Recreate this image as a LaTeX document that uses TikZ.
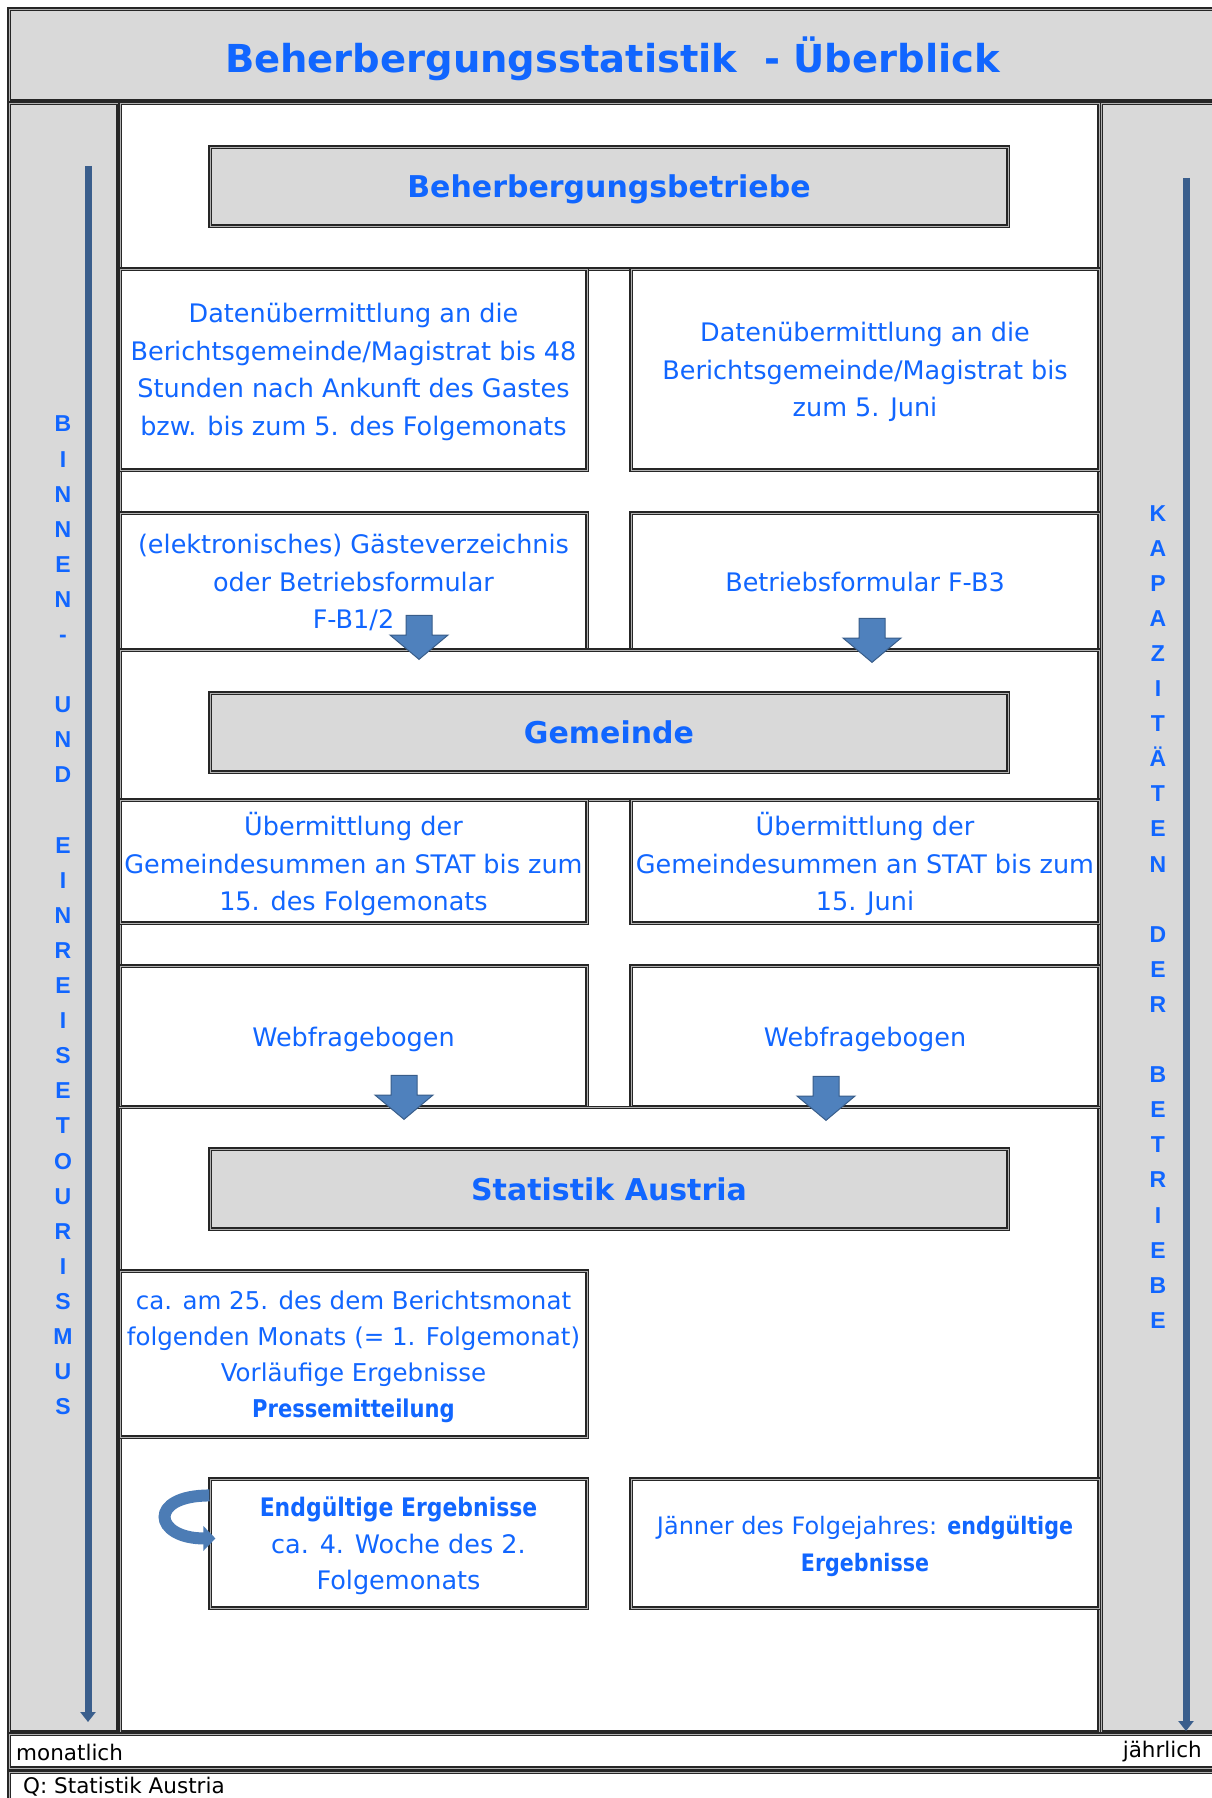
\documentclass[tikz,border=0pt]{standalone}
\usepackage{fontspec}
\setmainfont{DejaVu Sans}
\newfontfamily\arialfont{Liberation Sans}
\newfontfamily\schmal{DejaVu Sans}[FakeStretch=0.86]
\newcommand{\fettschmal}[1]{{\schmal\bfseries #1}}
\usepackage{tikz}
\usetikzlibrary{shapes.arrows, arrows.meta}
\definecolor{schrift}{RGB}{17,102,255}
\definecolor{zellgrau}{RGB}{217,217,217}
\definecolor{pfeilblau}{RGB}{79,129,189}
\definecolor{pfeilrand}{RGB}{56,93,138}
\definecolor{leiste}{RGB}{58,94,140}
\tikzstyle{rahmen} = [
	draw=black!85,
	double=black!30,
	double distance=0.9pt,
	line width=1.1pt,
	inner sep=0pt
]
\tikzstyle{feld} = [
	rahmen,
	fill=white,
	text=schrift,
	align=center,
	text depth=0pt,
	font=\fontsize{25.5}{37.5}\selectfont
]
\tikzstyle{kopf} = [
	rahmen,
	fill=zellgrau,
	text=schrift,
	text depth=0pt,
	font=\fontsize{30}{36}\selectfont\bfseries
]
\tikzstyle{blockpfeil} = [
	single arrow,
	shape border rotate=270,
	draw=pfeilrand,
	fill=pfeilblau,
	line width=1pt,
	inner xsep=12.5pt,
	inner ysep=0pt,
	minimum height=44pt,
	single arrow head extend=16pt,
	single arrow tip angle=100
]
\tikzstyle{zeitpfeil} = [draw=leiste, line width=7pt, -{Triangle[width=15pt,length=10pt]}]
\tikzstyle{kringel} = [draw=pfeilblau!85!pfeilrand, line width=12pt, -{Triangle[width=24pt,length=12pt]}]
\tikzstyle{spalte} = [text=schrift, inner sep=0pt, align=center, font=\arialfont\bfseries\fontsize{23}{35.1}\selectfont]
\tikzstyle{klein} = [inner sep=0pt, font=\fontsize{21.5}{26}\selectfont]

\begin{document}
\begin{tikzpicture}[x=1pt, y=-1pt]
    \useasboundingbox (0, 0) rectangle (1211, 1798);
    \node [kopf, minimum width=1207pt, minimum height=92pt, font=\fontsize{38.5}{44}\selectfont\bfseries] at (612.5, 55) (titel) {Beherbergungsstatistik\ \ - Überblick};
    \node [rahmen, fill=zellgrau, minimum width=109pt, minimum height=1629pt] at (63.5, 917.5) (links) {};
    \node [rahmen, fill=zellgrau, minimum width=115pt, minimum height=1629pt] at (1158.5, 917.5) (rechts) {};
    \node [rahmen, fill=white, minimum width=979pt, minimum height=1629pt] at (609.5, 917.5) (mitte) {};
    \node [rahmen, fill=white, minimum width=1207pt, minimum height=34pt] at (612.5, 1751) (takt) {};
    \node [rahmen, fill=white, minimum width=1207pt, minimum height=58pt] at (612.5, 1801) (quelle) {};
    \node [klein, anchor=west] at (16, 1752) (monatlich) {monatlich};
    \node [klein, anchor=east] at (1202, 1752) (jaehrlich) {jährlich};
    \node [klein, anchor=west] at (23, 1787) (q) {Q: Statistik Austria};
    \coordinate (mon start) at (88, 166);
    \coordinate (mon ende) at (88, 1722);
    \coordinate (jahr start) at (1186, 178);
    \coordinate (jahr ende) at (1186, 1731);
    \draw [zeitpfeil] (mon start) -- (mon ende);
    \draw [zeitpfeil] (jahr start) -- (jahr ende);
    \node [spalte] at (63, 915.5) (binnen) {B\\I\\N\\N\\E\\N\\-\\\mbox{}\\U\\N\\D\\\mbox{}\\E\\I\\N\\R\\E\\I\\S\\E\\T\\O\\U\\R\\I\\S\\M\\U\\S};
    \node [spalte] at (1158, 916.8) (kapazitaet) {K\\A\\P\\A\\Z\\I\\T\\Ä\\T\\E\\N\\\mbox{}\\D\\E\\R\\\mbox{}\\B\\E\\T\\R\\I\\E\\B\\E};
    \node [rahmen, minimum width=979pt, minimum height=166pt] at (609.5, 186) (zelle betrieb) {};
    \node [kopf, minimum width=798pt, minimum height=79pt] at (609, 186.5) (betriebe) {Beherbergungsbetriebe};
    \node [feld, minimum width=467pt, minimum height=201pt] at (353.5, 369.5) (meld monat) {Datenübermittlung an die\\Berichtsgemeinde/Magistrat bis 48\\Stunden nach Ankunft des Gastes\\bzw. bis zum 5. des Folgemonats};
    \node [feld, minimum width=468pt, minimum height=201pt] at (865, 369.5) (meld jahr) {Datenübermittlung an die\\Berichtsgemeinde/Magistrat bis\\zum 5. Juni};
    \node [feld, minimum width=467pt, minimum height=137pt] at (353.5, 581.5) (formular monat) {(elektronisches) Gästeverzeichnis\\oder Betriebsformular\\F-B1/2};
    \node [feld, minimum width=468pt, minimum height=137pt] at (865, 581.5) (formular jahr) {Betriebsformular F-B3};
    \node [rahmen, fill=white, minimum width=979pt, minimum height=150pt] at (609.5, 725) (zelle gemeinde) {};
    \node [kopf, minimum width=798pt, minimum height=79pt] at (609, 732.5) (gemeinde) {Gemeinde};
    \node [blockpfeil, anchor=tip] at (419, 660) (pfeil formular monat) {};
    \node [blockpfeil, anchor=tip] at (872, 663) (pfeil formular jahr) {};
    \node [feld, minimum width=467pt, minimum height=123pt] at (353.5, 861.5) (summe monat) {Übermittlung der\\Gemeindesummen an STAT bis zum\\15. des Folgemonats};
    \node [feld, minimum width=468pt, minimum height=123pt] at (865, 861.5) (summe jahr) {Übermittlung der\\Gemeindesummen an STAT bis zum\\15. Juni};
    \node [feld, minimum width=467pt, minimum height=141pt] at (353.5, 1036.5) (web monat) {Webfragebogen};
    \node [feld, minimum width=468pt, minimum height=141pt] at (865, 1036.5) (web jahr) {Webfragebogen};
    \draw [rahmen] (web monat.south west) -- (web jahr.south east);
    \node [kopf, minimum width=798pt, minimum height=80pt] at (609, 1189) (stat) {Statistik Austria};
    \node [blockpfeil, anchor=tip] at (404, 1120) (pfeil web monat) {};
    \node [blockpfeil, anchor=tip] at (826, 1121) (pfeil web jahr) {};
    \node [feld, minimum width=467pt, minimum height=166pt, font=\fontsize{24.5}{36}\selectfont] at (353.5, 1354) (vorlaeufig) {ca. am 25. des dem Berichtsmonat\\folgenden Monats (= 1. Folgemonat)\\Vorläufige Ergebnisse\\\fettschmal{Pressemitteilung}};
    \node [feld, minimum width=377pt, minimum height=129pt, font=\fontsize{25.5}{36.5}\selectfont] at (398.5, 1543.5) (endg monat) {\fettschmal{Endgültige Ergebnisse}\\ca. 4. Woche des 2.\\Folgemonats};
    \node [feld, minimum width=468pt, minimum height=129pt, font=\fontsize{24}{37}\selectfont] at (865, 1543.5) (endg jahr) {Jänner des Folgejahres: \fettschmal{endgültige}\\\fettschmal{Ergebnisse}};
    \coordinate (kringel start) at ([yshift=-17pt]endg monat.north west);
    \coordinate (kringel ende) at ([xshift=6pt, yshift=-60pt]endg monat.north west);
    \draw [kringel] (kringel start) .. controls +(-62, 0) and +(-62, 0) .. (kringel ende);
  \end{tikzpicture}
\end{document}
